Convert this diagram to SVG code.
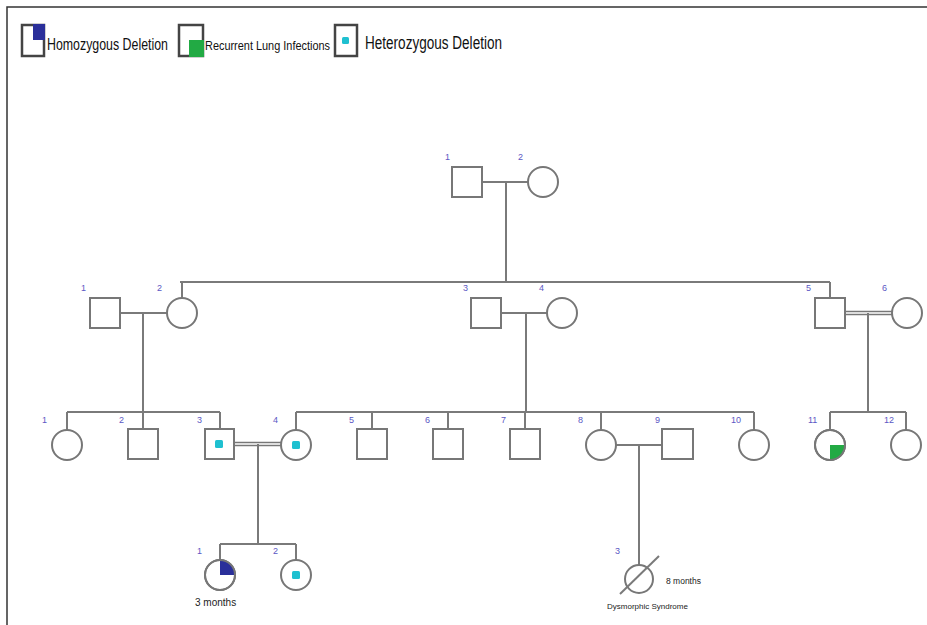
<svg xmlns="http://www.w3.org/2000/svg" width="927" height="625" viewBox="0 0 927 625">
<style>
.ln{stroke:#7a7a7a;stroke-width:2;fill:none}
.dbl{stroke:#777;stroke-width:1.6;fill:none}
.sym{stroke:#777;stroke-width:2;fill:#fff}
.num{font-family:"Liberation Sans",Arial,sans-serif;font-size:9px;fill:#5b57c4}
.lg{font-family:"Liberation Sans",Arial,sans-serif;fill:#111}
.sm{font-family:"Liberation Sans",Arial,sans-serif;fill:#222}
.het{fill:#1fc0d0}
</style>
<rect width="927" height="625" fill="#fff"/>
<path d="M7 625V7H927" stroke="#333" stroke-width="1.5" fill="none"/>
<g id="legend">
<rect x="22" y="25" width="22" height="31" fill="#fff" stroke="#444" stroke-width="2.5"/>
<rect x="33" y="24" width="12" height="16" fill="#2a2f9a"/>
<text class="lg" x="47" y="50" font-size="17" textLength="121" lengthAdjust="spacingAndGlyphs">Homozygous Deletion</text>
<rect x="179" y="25" width="24" height="31" fill="#fff" stroke="#444" stroke-width="2.5"/>
<rect x="189" y="40" width="15" height="17" fill="#22aa44"/>
<text class="lg" x="205" y="50" font-size="13.5" textLength="125" lengthAdjust="spacingAndGlyphs">Recurrent Lung Infections</text>
<rect x="335" y="25" width="22" height="31" fill="#fff" stroke="#444" stroke-width="2.5"/>
<rect x="342" y="37" width="7" height="7" rx="1.5" class="het"/>
<text class="lg" x="365" y="49" font-size="17.5" textLength="137" lengthAdjust="spacingAndGlyphs">Heterozygous Deletion</text>
</g>
<g id="connectors">
<path class="ln" d="M482 182H528M506 182V282M180 282H830M182 282V298M830 282V298"/>
<path class="ln" d="M120 313H167M143 313V412M67 412H220M67 412V430M143 412V429M220 412V429"/>
<path class="ln" d="M501 313H547M526 313V412M296 412H754M296 412V430M372 412V429M448 412V429M525 412V429M601 412V430M754 412V430"/>
<path class="dbl" d="M845 311.5H892M845 314.5H892"/>
<path class="ln" d="M868 313V412M830 412H906M830 412V430M906 412V430"/>
<path class="dbl" d="M234 442.5H281M234 445.5H281"/>
<path class="ln" d="M258 444V544M220 544H296M220 544V560M296 544V560"/>
<path class="ln" d="M616 445H662M639 445V565"/>
</g>
<g id="I-1"><rect class="sym" x="452" y="167" width="30" height="30"/><text class="num" x="445" y="160">1</text></g>
<g id="I-2"><circle class="sym" cx="543" cy="182" r="15"/><text class="num" x="518" y="160">2</text></g>
<g id="II-1"><rect class="sym" x="90" y="298" width="30" height="30"/><text class="num" x="81" y="291">1</text></g>
<g id="II-2"><circle class="sym" cx="182" cy="313" r="15"/><text class="num" x="157" y="291">2</text></g>
<g id="II-3"><rect class="sym" x="471" y="298" width="30" height="30"/><text class="num" x="463" y="291">3</text></g>
<g id="II-4"><circle class="sym" cx="562" cy="313" r="15"/><text class="num" x="539" y="291">4</text></g>
<g id="II-5"><rect class="sym" x="815" y="298" width="30" height="30"/><text class="num" x="806" y="291">5</text></g>
<g id="II-6"><circle class="sym" cx="907" cy="313" r="15"/><text class="num" x="882" y="291">6</text></g>
<g id="III-1"><circle class="sym" cx="67" cy="445" r="15"/><text class="num" x="42" y="423">1</text></g>
<g id="III-2"><rect class="sym" x="128" y="429" width="30" height="30"/><text class="num" x="119" y="423">2</text></g>
<g id="III-3"><rect class="sym" x="205" y="429" width="29" height="30"/><rect class="het" x="215" y="440" width="8" height="8" rx="1.5"/><text class="num" x="197" y="423">3</text></g>
<g id="III-4"><circle class="sym" cx="296" cy="445" r="15"/><rect class="het" x="292" y="441" width="8" height="8" rx="1.5"/><text class="num" x="273" y="423">4</text></g>
<g id="III-5"><rect class="sym" x="357" y="429" width="30" height="30"/><text class="num" x="349" y="423">5</text></g>
<g id="III-6"><rect class="sym" x="433" y="429" width="30" height="30"/><text class="num" x="425" y="423">6</text></g>
<g id="III-7"><rect class="sym" x="510" y="429" width="30" height="30"/><text class="num" x="501" y="423">7</text></g>
<g id="III-8"><circle class="sym" cx="601" cy="445" r="15"/><text class="num" x="578" y="423">8</text></g>
<g id="III-9"><rect class="sym" x="662" y="429" width="31" height="30"/><text class="num" x="655" y="423">9</text></g>
<g id="III-10"><circle class="sym" cx="754" cy="445" r="15"/><text class="num" x="731" y="423">10</text></g>
<g id="III-11"><circle class="sym" cx="830" cy="445" r="15"/><path d="M830 445H845A15 15 0 0 1 830 460Z" fill="#22aa44"/><circle cx="830" cy="445" r="15" fill="none" stroke="#777" stroke-width="2"/><text class="num" x="808" y="423">11</text></g>
<g id="III-12"><circle class="sym" cx="906" cy="445" r="15"/><text class="num" x="884" y="423">12</text></g>
<g id="IV-1"><circle class="sym" cx="220" cy="575" r="15"/><path d="M220 575V560A15 15 0 0 1 235 575Z" fill="#2a2f9a"/><circle cx="220" cy="575" r="15" fill="none" stroke="#777" stroke-width="2"/><text class="num" x="197" y="554">1</text><text class="sm" x="195" y="606" font-size="10">3 months</text></g>
<g id="IV-2"><circle class="sym" cx="296" cy="575" r="15"/><rect class="het" x="292" y="571" width="8" height="8" rx="1.5"/><text class="num" x="273" y="554">2</text></g>
<g id="IV-3"><circle class="sym" cx="639" cy="579" r="14"/><path class="ln" d="M620 594L659 556"/><text class="num" x="615" y="554">3</text><text class="sm" x="666" y="584" font-size="8.5">8 months</text><text class="sm" x="607" y="609" font-size="8">Dysmorphic Syndrome</text></g>
</svg>
